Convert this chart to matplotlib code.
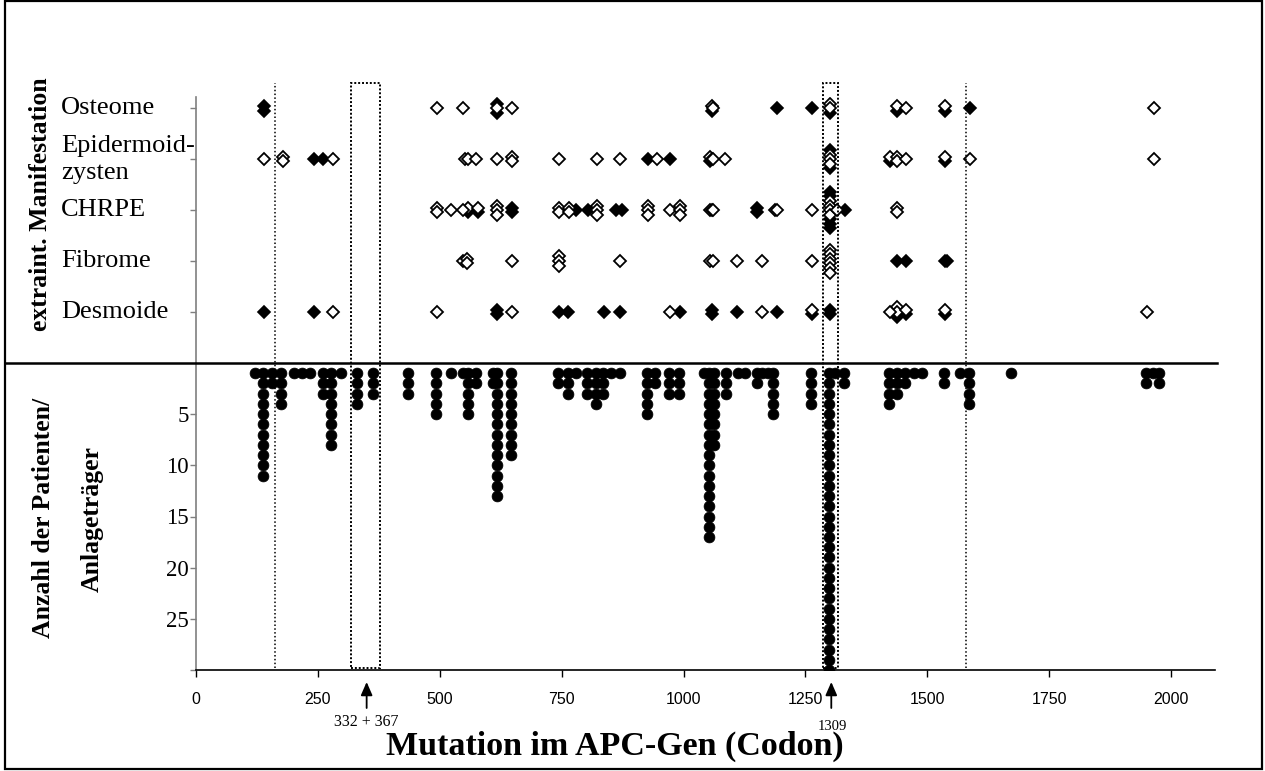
import matplotlib
matplotlib.use("Agg")
import matplotlib.pyplot as plt
from matplotlib import transforms
from matplotlib.patches import Rectangle
from matplotlib.lines import Line2D
from collections import OrderedDict

# ---------------- data ----------------
categories = ["Desmoide", "Fibrome", "CHRPE", "Epidermoid-\nzysten", "Osteome"]

osteome_open = [494, 548, 617, 648, 1058, 1061, 1300, 1300, 1437, 1457, 1536, 1964]
osteome_filled = [139, 139, 617, 617, 1058, 1191, 1263, 1300, 1437, 1536, 1588]

epidermoid_open = [139, 179, 179, 280, 552, 557, 575, 617, 648, 648, 745, 822, 870, 945,
                   1054, 1058, 1061, 1085, 1300, 1300, 1300, 1424, 1437, 1437, 1457, 1536,
                   1588, 1964]
epidermoid_filled = [242, 261, 928, 972, 1054, 1300, 1300, 1424, 1536]

chrpe_open = [494, 494, 524, 548, 557, 579, 617, 617, 617, 745, 745, 766, 766, 822, 822, 822,
              928, 928, 928, 972, 993, 993, 993, 1054, 1058, 1061, 1188, 1191, 1263,
              1300, 1300, 1300, 1300, 1314, 1437, 1437]
chrpe_filled = [557, 579, 648, 648, 780, 803, 861, 873, 1150, 1150,
                1300, 1300, 1300, 1300, 1300, 1331]

fibrome_open = [548, 555, 555, 648, 745, 745, 745, 870, 1054, 1061, 1109, 1160, 1263,
                1300, 1300, 1300, 1300, 1300, 1300]
fibrome_filled = [1437, 1457, 1536, 1541]

desmoide_open = [280, 494, 648, 972, 1160, 1263, 1424, 1437, 1437, 1457, 1536, 1950]
desmoide_filled = [139, 242, 617, 617, 745, 764, 837, 870, 993, 1058, 1058, 1109, 1191,
                   1263, 1300, 1300, 1437, 1457, 1536]

open_by_cat = [desmoide_open, fibrome_open, chrpe_open, epidermoid_open, osteome_open]
filled_by_cat = [desmoide_filled, fibrome_filled, chrpe_filled, epidermoid_filled, osteome_filled]

count_codons = [121, 138, 155, 174, 200, 217, 234, 261, 277, 298,
                330, 364, 434, 492, 524, 548, 557, 575, 610, 617,
                647, 742, 763, 780, 801, 820, 835, 852, 869, 924,
                941, 971, 990, 1041, 1053, 1063, 1087, 1112, 1125, 1150,
                1160, 1174, 1184, 1261, 1298, 1310, 1330, 1422, 1437, 1454,
                1472, 1490, 1534, 1566, 1585, 1671, 1948, 1963, 1975]
patient_counts = [1, 11, 2, 4, 1, 1, 1, 3, 8, 1,
                  4, 3, 3, 5, 1, 1, 5, 2, 2, 13,
                  9, 2, 3, 1, 3, 4, 3, 1, 1, 5,
                  2, 3, 3, 1, 17, 8, 3, 1, 1, 2,
                  1, 1, 5, 4, 30, 1, 2, 4, 3, 2,
                  1, 1, 2, 1, 4, 1, 2, 1, 2]

x_ticks = [0, 250, 500, 750, 1000, 1250, 1500, 1750, 2000]
count_ticks = [5, 10, 15, 20, 25, 30]
count_tick_labels = ["5", "10", "15", "20", "25", ""]

reference_lines = [162, 1580]
reference_boxes = [(318, 378), (1287, 1316)]
arrow_marks = [(350, "332 + 367"), (1303, "1309")]

# ---------------- layout ----------------
W, H = 1265, 771
fig = plt.figure(figsize=(W / 100, H / 100), dpi=100)
fig.patch.set_facecolor("white")


def fx(px):
    return px / W


def fy(py):
    return 1 - py / H


SERIF = ["Liberation Serif", "DejaVu Serif"]
SANS = ["Liberation Sans", "DejaVu Sans"]

x_left, x_right = 196, 1215
y_top, y_mid, y_bot = 97, 363, 670

ax_top = fig.add_axes([fx(x_left), fy(y_mid), (x_right - x_left) / W, (y_mid - y_top) / H])
ax_bot = fig.add_axes([fx(x_left), fy(y_bot), (x_right - x_left) / W, (y_bot - y_mid) / H])

xmax = 2090
for ax in (ax_top, ax_bot):
    ax.set_xlim(0, xmax)
    ax.set_facecolor("none")

# ---------------- top panel ----------------
step = 0.09
for ci, (opens, filleds) in enumerate(zip(open_by_cat, filled_by_cat)):
    yval = ci + 1
    groups = OrderedDict()
    for c in filleds:
        groups.setdefault(c, {"f": 0, "o": 0})["f"] += 1
    for c in opens:
        groups.setdefault(c, {"f": 0, "o": 0})["o"] += 1
    fx_, fy_, ox_, oy_ = [], [], [], []
    for c, g in groups.items():
        kinds = ["f"] * (g["f"] // 2) + ["o"] * g["o"] + ["f"] * (g["f"] - g["f"] // 2)
        n = len(kinds)
        for i, k in enumerate(kinds):
            off = (i - (n - 1) / 2) * step
            if k == "f":
                fx_.append(c); fy_.append(yval - off)
            else:
                ox_.append(c); oy_.append(yval - off)
    ax_top.plot(fx_, fy_, linestyle="none", marker="D", markersize=5.8,
                markerfacecolor="black", markeredgecolor="black", markeredgewidth=1.2, zorder=3)
    ax_top.plot(ox_, oy_, linestyle="none", marker="D", markersize=5.8,
                markerfacecolor="white", markeredgecolor="black", markeredgewidth=1.3, zorder=4)

ax_top.set_ylim(0, 5.22)
ax_top.set_yticks(range(1, len(categories) + 1))
ax_top.set_yticklabels(categories, ha="left", va="center", family=SERIF, fontsize=19)
for lbl in ax_top.get_yticklabels():
    lbl.set_linespacing(1.3)
ax_top.tick_params(axis="y", direction="out", length=4, width=1, color="#7f7f7f", pad=93)
ax_top.tick_params(axis="x", bottom=False, labelbottom=False)
for s in ("top", "right", "bottom"):
    ax_top.spines[s].set_visible(False)
ax_top.spines["left"].set_color("#7f7f7f")
ax_top.spines["left"].set_linewidth(1.2)

# ---------------- bottom panel ----------------
bx, by = [], []
for c, n in zip(count_codons, patient_counts):
    for k in range(1, n + 1):
        bx.append(c)
        by.append(k)
ax_bot.plot(bx, by, linestyle="none", marker="o", markersize=7.8,
            markerfacecolor="black", markeredgecolor="black", markeredgewidth=0.5, zorder=3)
ax_bot.set_ylim(30, 0)
ax_bot.set_yticks(count_ticks)
ax_bot.set_yticklabels(count_tick_labels, family=SERIF, fontsize=16.5)
ax_bot.tick_params(axis="y", direction="out", length=4, width=1, color="#7f7f7f", pad=1)
ax_bot.set_xticks(x_ticks)
ax_bot.set_xticklabels([str(t) for t in x_ticks], family=SANS, fontsize=11.5)
ax_bot.tick_params(axis="x", direction="out", length=5, width=1, color="black", pad=11)
for s in ("top", "right"):
    ax_bot.spines[s].set_visible(False)
ax_bot.spines["left"].set_color("#7f7f7f")
ax_bot.spines["left"].set_linewidth(1.2)
ax_bot.spines["bottom"].set_linewidth(1.2)

# ---------------- reference lines / boxes ----------------
trans = transforms.blended_transform_factory(ax_bot.transData, fig.transFigure)
ref_top, ref_bot = fy(83), fy(668)
for xv in reference_lines:
    fig.add_artist(Line2D([xv, xv], [ref_bot, ref_top], transform=trans, color="black",
                          lw=1.1, linestyle=(0, (1, 1.5)), zorder=6))
for (x0, x1) in reference_boxes:
    fig.add_artist(Rectangle((x0, ref_bot), x1 - x0, ref_top - ref_bot, transform=trans,
                             fill=False, edgecolor="black", lw=1.4,
                             linestyle=(0, (1, 1)), zorder=6))

# arrows under the axis
for xv, lab in arrow_marks:
    ax_bot.annotate("", xy=(xv, fy(682)), xytext=(xv, fy(708)), xycoords=trans,
                    textcoords=trans,
                    arrowprops=dict(arrowstyle="-|>,head_length=0.8,head_width=0.35",
                                    color="black", lw=1.3, shrinkA=0, shrinkB=0),
                    annotation_clip=False)
ax_bot.text(arrow_marks[0][0], fy(722), arrow_marks[0][1], transform=trans, ha="center",
            va="center", family=SERIF, fontsize=11.5)
ax_bot.text(arrow_marks[1][0] + 3, fy(726), arrow_marks[1][1], transform=trans, ha="center",
            va="center", family=SERIF, fontsize=10.5)

# ---------------- divider, labels, border ----------------
fig.add_artist(Line2D([fx(5), fx(1217)], [fy(y_mid), fy(y_mid)], transform=fig.transFigure,
                      color="black", lw=1.8, zorder=7))

fig.text(fx(41), fy(204), "extraint. Manifestation", rotation=90, ha="center", va="center",
         family=SERIF, fontweight="bold", fontsize=18.5)
fig.text(fx(44), fy(518), "Anzahl der Patienten/", rotation=90, ha="center", va="center",
         family=SERIF, fontweight="bold", fontsize=18.5)
fig.text(fx(92), fy(519), "Anlageträger", rotation=90, ha="center", va="center",
         family=SERIF, fontweight="bold", fontsize=18.5)
fig.text(fx(615), fy(746), "Mutation im APC-Gen (Codon)", ha="center", va="center",
         family=SERIF, fontweight="bold", fontsize=24.5)

fig.add_artist(Rectangle((fx(5), fy(769)), fx(1262) - fx(5), fy(1) - fy(769),
                         transform=fig.transFigure, fill=False, edgecolor="black", lw=1.6))

fig.savefig("out.png", dpi=100, facecolor="white")
